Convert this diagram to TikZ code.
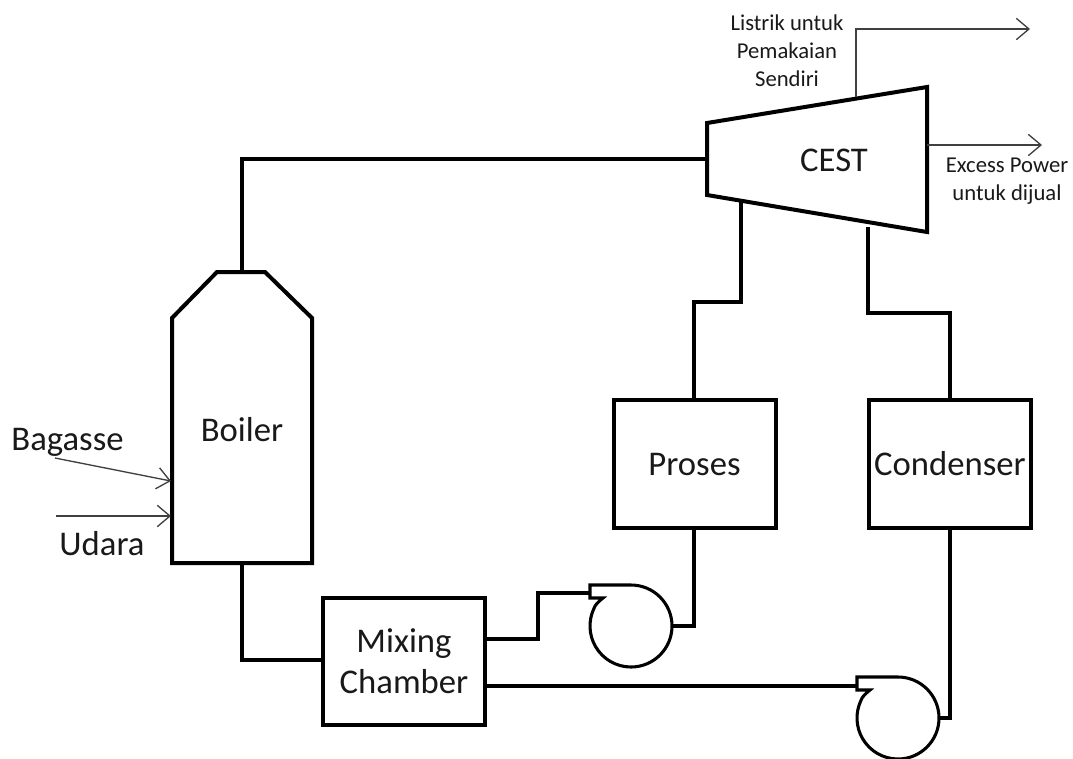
\documentclass[tikz,border=0pt]{standalone}
\usepackage{fontspec}
\setmainfont{Carlito}
\usetikzlibrary{arrows.meta}
\definecolor{thinline}{HTML}{404040}
\tikzset{
  unit/.style={draw=black,line width=3pt,line join=miter},
  pipe/.style={draw=black,line width=3pt,line join=miter},
  pumpline/.style={draw=black,line width=2.3pt,line join=miter,fill=white},
  feed/.style={draw=thinline,line width=1pt,-{Straight Barb[length=9.5pt,width=16pt,line width=1pt]}},
  big/.style={font=\fontsize{26pt}{31pt}\selectfont,align=center,inner sep=0pt,text=black!90},
  small/.style={font=\fontsize{17pt}{21pt}\selectfont,align=center,inner sep=0pt,text=black!90},
  box/.style={unit,minimum width=121.5pt,minimum height=95.5pt,inner sep=0pt,font=\fontsize{26pt}{31pt}\selectfont,align=center,text=black!90}
}
\newcommand{\pumpshape}[2]{%
  \begin{scope}[shift={(#1,#2)}]
    \draw[pumpline] (-41,-41) -- (0,-41) arc[start angle=-90,end angle=205,radius=41]
      .. controls (-36,-21) and (-33,-24) .. (-28,-28) -- (-41,-28) -- cycle;
  \end{scope}}
\begin{document}
\begin{tikzpicture}[x=0.75pt,y=-0.75pt]
\useasboundingbox (0,0) rectangle (1073,758);
% units
\draw[unit] (172,318) -- (217,272) -- (265,272) -- (312,318) -- (312,563) -- (172,563) -- cycle;
\node[big] (boiler) at (242,430) {Boiler};
\draw[unit] (707,123) -- (927,87) -- (927,232) -- (707,195) -- cycle;
\node[big] (cest) at (834,160) {CEST};
\node[box] (mix) at (404,661.5) {Mixing\\Chamber};
\node[box] (proses) at (694.5,464) {Proses};
\node[box] (cond) at (950,464) {Condenser};
\pumpshape{631}{626}
\pumpshape{898}{718}
% ports
\coordinate (boilertop) at (242,272);
\coordinate (boilerbot) at (242,563);
\coordinate (cestin) at (707,159);
\coordinate (cestp) at (741,200);
\coordinate (cestc) at (868,227);
\coordinate (cesttop) at (856,97);
\coordinate (cestright) at (927,145);
\coordinate (p1in) at (589,593);
\coordinate (p1out) at (672,626);
\coordinate (p2in) at (856,686);
\coordinate (p2out) at (939,718);
% pipes
\draw[pipe] (boilertop) -- (242,159) -- (cestin);
\draw[pipe] (boilerbot) -- (242,660) -- (mix.west |- 0,660);
\draw[pipe] (mix.east |- 0,639) -- (538,639) -- (538,593) -- (p1in);
\draw[pipe] (mix.east |- 0,686) -- (p2in);
\draw[pipe] (p1out) -- (694,626) -- (proses.south -| 694,0);
\draw[pipe] (p2out) -- (950,718) -- (cond.south);
\draw[pipe] (cestp) -- (741,302) -- (694,302) -- (proses.north -| 694,0);
\draw[pipe] (cestc) -- (868,313) -- (950,313) -- (cond.north);
% thin lines
\coordinate (out1) at (1030,29);
\coordinate (out2) at (1042,145);
\coordinate (bag) at (55,458);
\coordinate (bagin) at (171,481);
\coordinate (uda) at (56,516);
\coordinate (udain) at (171,516);
\draw[feed] (cesttop) -- (856,29) -- (out1);
\draw[feed] (cestright) -- (out2);
\draw[feed] (bag) -- (bagin);
\draw[feed] (uda) -- (udain);
% labels
\node[big] (lbag) at (67.5,442) {Bagasse};
\node[big] (luda) at (102,544) {Udara};
\node[small] (llist) at (787,51) {Listrik untuk\\Pemakaian\\Sendiri};
\node[small] (lexc) at (1007,181) {Excess Power\\untuk dijual};
\end{tikzpicture}
\end{document}
